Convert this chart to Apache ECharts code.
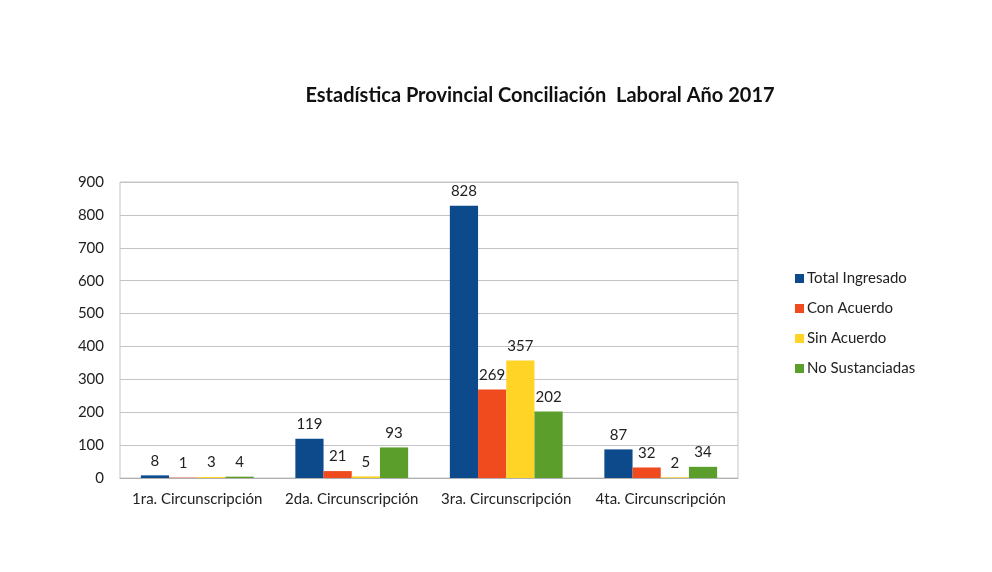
<!DOCTYPE html>
<html><head><meta charset="utf-8">
<script src="https://cdn.jsdelivr.net/npm/echarts@6/dist/echarts.min.js"></script>
<style>html,body{margin:0;padding:0;background:#fff}#c{width:992px;height:572px}</style>
</head><body><div id="c"></div>
<script>
const categories = ['1ra. Circunscripción', '2da. Circunscripción', '3ra. Circunscripción', '4ta. Circunscripción'];
const seriesNames = ['Total Ingresado', 'Con Acuerdo', 'Sin Acuerdo', 'No Sustanciadas'];
const totalIngresado = [8, 119, 828, 87];
const conAcuerdo = [1, 21, 269, 32];
const sinAcuerdo = [3, 5, 357, 2];
const noSustanciadas = [4, 93, 202, 34];
const yTicks = [0, 100, 200, 300, 400, 500, 600, 700, 800, 900];
const colors = ['#0c4a8c', '#f04b1e', '#ffd426', '#5c9e2c'];
const values = [totalIngresado, conAcuerdo, sinAcuerdo, noSustanciadas];
const font = 'Lato, "Open Sans", sans-serif';
const chart = echarts.init(document.getElementById('c'));
chart.setOption({
  animation: false,
  color: colors,
  title: {
    text: 'Estadística Provincial Conciliación  Laboral Año 2017',
    left: 535, top: 81, textAlign: 'center',
    textStyle: {fontFamily: font, fontSize: 20, fontWeight: 'bold', color: '#111'}
  },
  legend: {
    orient: 'vertical', left: 795, top: 271, itemGap: 15, padding: 0,
    itemWidth: 9, itemHeight: 9, icon: 'rect',
    textStyle: {fontFamily: font, fontSize: 15, color: '#222', padding: [0,0,0,-2]},
    data: seriesNames
  },
  grid: {left: 120, right: 254, top: 182, bottom: 94, show: true, borderColor: '#c4c4c4', borderWidth: 1},
  xAxis: {
    type: 'category', data: categories,
    axisLine: {lineStyle: {color: '#b0b0b0'}}, axisTick: {show: false},
    axisLabel: {interval: 0, fontFamily: font, fontSize: 15, color: '#222', margin: 14}
  },
  yAxis: {
    type: 'value', min: 0, max: 900, interval: 100,
    axisLabel: {fontFamily: font, fontSize: 15, color: '#222', margin: 16,
      formatter: v => yTicks.includes(v) ? String(v) : ''},
    splitLine: {lineStyle: {color: '#c4c4c4'}},
    axisLine: {show: false}, axisTick: {show: false}
  },
  series: values.map((d, i) => ({
    name: seriesNames[i], type: 'bar', data: d,
    barGap: '0%', barCategoryGap: '27%',
    label: {show: true, position: 'top', distance: 7, fontFamily: font, fontSize: 15, color: '#222'}
  }))
});
</script></body></html>
